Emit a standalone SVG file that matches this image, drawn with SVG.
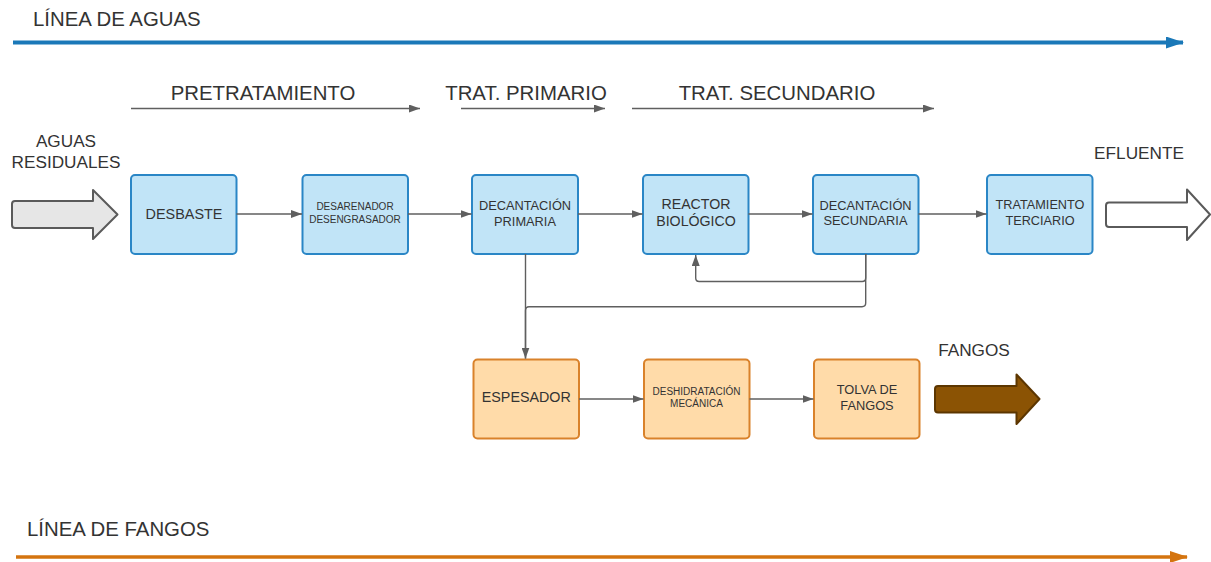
<svg xmlns="http://www.w3.org/2000/svg" width="1211" height="562" viewBox="0 0 1211 562">
<defs>
<marker id="ah" markerUnits="userSpaceOnUse" markerWidth="11" markerHeight="8" refX="11" refY="4" orient="auto"><path d="M0,0 L11,4 L0,8 z" fill="#5f5f5f"/></marker>
<marker id="ahBlue" markerUnits="userSpaceOnUse" markerWidth="18" markerHeight="12" refX="17" refY="6" orient="auto"><path d="M0,0 L18,6 L0,12 z" fill="#1a78b8"/></marker>
<marker id="ahOrange" markerUnits="userSpaceOnUse" markerWidth="18" markerHeight="12" refX="17" refY="6" orient="auto"><path d="M0,0 L18,6 L0,12 z" fill="#d4740f"/></marker>
</defs>
<style>
text{font-family:"Liberation Sans",Arial,sans-serif;fill:#333;text-anchor:middle}
.lbl{font-size:20.4px}
.side{font-size:17.2px}
.b{fill:#c1e4f7;stroke:#2a86c6;stroke-width:2}
.o{fill:#ffdba9;stroke:#d9822b;stroke-width:2}
.c{fill:none;stroke:#5f5f5f;stroke-width:1.4;marker-end:url(#ah)}
.c2{fill:none;stroke:#5f5f5f;stroke-width:1.4}
.big{stroke-linejoin:round;stroke-width:2}
</style>
<rect width="1211" height="562" fill="#fff"/>

<g id="linea-aguas">
<text x="33" y="26" class="lbl" style="text-anchor:start">LÍNEA DE AGUAS</text>
<line x1="13" y1="42.5" x2="1183" y2="42.5" stroke="#1a78b8" stroke-width="4" marker-end="url(#ahBlue)"/>
</g>
<g id="linea-fangos">
<text x="27" y="536" class="lbl" style="text-anchor:start">LÍNEA DE FANGOS</text>
<line x1="16" y1="557" x2="1187" y2="557" stroke="#d4740f" stroke-width="3.5" marker-end="url(#ahOrange)"/>
</g>

<g id="etapas">
<text x="263" y="100" class="lbl">PRETRATAMIENTO</text>
<line x1="131" y1="108.5" x2="420" y2="108.5" class="c"/>
<text x="526" y="100" class="lbl">TRAT. PRIMARIO</text>
<line x1="461" y1="108.5" x2="605" y2="108.5" class="c"/>
<text x="777" y="100" class="lbl">TRAT. SECUNDARIO</text>
<line x1="632" y1="108.5" x2="934" y2="108.5" class="c"/>
</g>

<g id="aguas-residuales">
<text x="66" y="147" class="side">AGUAS</text>
<text x="66" y="168" class="side">RESIDUALES</text>
<path class="big" d="M15,201 H93 V190 L117.5,214.5 L93,239 V228 H15 Q12,228 12,225 V204 Q12,201 15,201 Z" fill="#e6e6e6" stroke="#5a5a5a"/>
</g>

<g id="efluente">
<text x="1139" y="159" class="side">EFLUENTE</text>
<path class="big" d="M1109,202.5 H1187 V189.5 L1210,214.5 L1187,240 V227 H1109 Q1106,227 1106,224 V205.5 Q1106,202.5 1109,202.5 Z" fill="#fff" stroke="#5a5a5a"/>
</g>

<g id="fangos">
<text x="974" y="356" class="side">FANGOS</text>
<path class="big" d="M938,386 H1016.5 V374.5 L1039.5,399 L1016.5,424 V412.5 H938 Q935,412.5 935,409.5 V389 Q935,386 938,386 Z" fill="#8b5304" stroke="#5c3600"/>
</g>

<g id="desbaste">
<rect x="131" y="175" width="105.5" height="79" rx="4" class="b"/>
<text x="184" y="218.5" style="font-size:14.4px">DESBASTE</text>
</g>
<g id="desarenador">
<rect x="302.5" y="175" width="105.5" height="79" rx="4" class="b"/>
<text x="355" y="210" style="font-size:10px">DESARENADOR</text>
<text x="355" y="222.5" style="font-size:10px">DESENGRASADOR</text>
</g>
<g id="decantacion-primaria">
<rect x="472" y="175" width="106" height="79" rx="4" class="b"/>
<text x="525" y="209.5" style="font-size:12.8px">DECANTACIÓN</text>
<text x="525" y="225.5" style="font-size:12.8px">PRIMARIA</text>
</g>
<g id="reactor-biologico">
<rect x="643" y="175" width="105.5" height="79" rx="4" class="b"/>
<text x="696" y="209" style="font-size:14.2px">REACTOR</text>
<text x="696" y="225.5" style="font-size:14.2px">BIOLÓGICO</text>
</g>
<g id="decantacion-secundaria">
<rect x="813" y="175" width="105.5" height="79" rx="4" class="b"/>
<text x="865.5" y="209.5" style="font-size:12.8px">DECANTACIÓN</text>
<text x="865.5" y="225" style="font-size:12.8px">SECUNDARIA</text>
</g>
<g id="tratamiento-terciario">
<rect x="987" y="175" width="105.5" height="79" rx="4" class="b"/>
<text x="1040" y="209" style="font-size:12.7px">TRATAMIENTO</text>
<text x="1040" y="225" style="font-size:12.7px">TERCIARIO</text>
</g>

<g id="espesador">
<rect x="473.5" y="359.5" width="105.5" height="79" rx="4" class="o"/>
<text x="526.3" y="402" style="font-size:14.3px">ESPESADOR</text>
</g>
<g id="deshidratacion">
<rect x="644" y="359.5" width="105.5" height="79" rx="4" class="o"/>
<text x="696.5" y="395" style="font-size:10px">DESHIDRATACIÓN</text>
<text x="696.5" y="406.7" style="font-size:10px">MECÁNICA</text>
</g>
<g id="tolva">
<rect x="814" y="359.5" width="105.5" height="79" rx="4" class="o"/>
<text x="867" y="394" style="font-size:12.8px">TOLVA DE</text>
<text x="867" y="409.5" style="font-size:12.8px">FANGOS</text>
</g>

<g id="connectors">
<line x1="236.5" y1="214" x2="302" y2="214" class="c"/>
<line x1="408" y1="214" x2="471.5" y2="214" class="c"/>
<line x1="578" y1="214" x2="642.5" y2="214" class="c"/>
<line x1="748.5" y1="214" x2="812.5" y2="214" class="c"/>
<line x1="918.5" y1="214" x2="986.5" y2="214" class="c"/>
<line x1="579" y1="399" x2="643.5" y2="399" class="c"/>
<line x1="749.5" y1="399" x2="813.5" y2="399" class="c"/>
<path d="M865.7,254 V278 Q865.7,281.5 862.2,281.5 H699.2 Q695.7,281.5 695.7,278 V255" class="c"/>
<path d="M865.7,254 V303 Q865.7,306.7 862,306.7 H529 Q525.5,306.7 525.5,310.5 V358.5" class="c2"/>
<line x1="525.5" y1="254" x2="525.5" y2="358.5" class="c"/>
</g>
</svg>
